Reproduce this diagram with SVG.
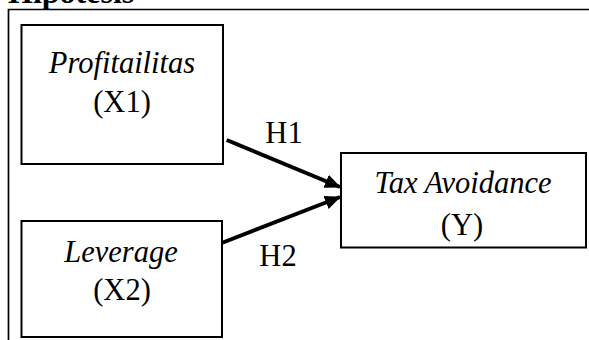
<svg xmlns="http://www.w3.org/2000/svg" width="589" height="340" viewBox="0 0 589 340">
<style>
.box{fill:#fff;stroke:#000;stroke-width:2}
.t{font-family:"Liberation Serif","Times New Roman",serif;font-size:30.5px;fill:#000;text-anchor:middle}
.i{font-style:italic}
.conn{stroke:#000;stroke-width:4;fill:none;marker-end:url(#ah)}
</style>
<defs>
<marker id="ah" markerUnits="userSpaceOnUse" markerWidth="16" markerHeight="14" refX="15" refY="7" orient="auto">
<path d="M0,0 L16,7 L0,14 Z" fill="#000"/>
</marker>
</defs>
<text x="8" y="3" font-family="Liberation Serif,Times New Roman,serif" font-size="32" font-weight="bold">Hipotesis</text>
<path d="M8.5,345 V9.5 H600" fill="none" stroke="#000" stroke-width="1.7"/>
<g id="profitabilitas">
<rect class="box" x="21.5" y="25" width="201.5" height="139"/>
<text class="t i" x="122" y="73">Profitailitas</text>
<text class="t" x="122" y="112">(X1)</text>
</g>
<g id="leverage">
<rect class="box" x="21.5" y="221" width="200.5" height="116"/>
<text class="t i" x="121" y="262">Leverage</text>
<text class="t" x="122" y="300">(X2)</text>
</g>
<g id="taxavoidance">
<rect class="box" x="341" y="153" width="245" height="94.5"/>
<text class="t i" x="463" y="193">Tax Avoidance</text>
<text class="t" x="462" y="235">(Y)</text>
</g>
<g id="connectors">
<line class="conn" x1="226.7" y1="140" x2="340" y2="187"/>
<line class="conn" x1="221.7" y1="243" x2="340" y2="197"/>
<text class="t" x="284" y="143">H1</text>
<text class="t" x="278" y="266">H2</text>
</g>
</svg>
